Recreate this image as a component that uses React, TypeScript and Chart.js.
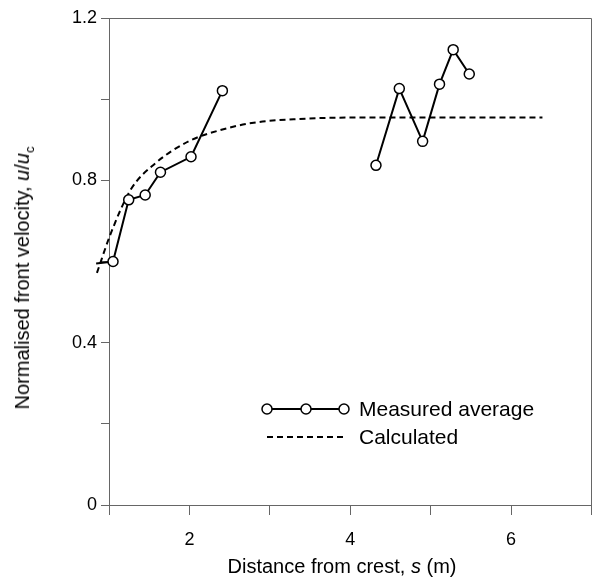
import React, { useEffect, useRef } from "react";
import { Chart, registerables } from "chart.js";
Chart.register(...registerables);

const measuredX = [0.84, 1.05, 1.245, 1.45, 1.64, 2.02, 2.41, 3.4, 4.32, 4.61, 4.9, 5.11, 5.28, 5.48];
const measuredY: (number | null)[] = [0.595, 0.6, 0.752, 0.764, 0.82, 0.858, 1.021, null, 0.837, 1.026, 0.896, 1.037, 1.122, 1.062];
const calcX = [0.85, 1.02, 1.27, 1.57, 1.99, 2.37, 2.8, 3.34, 4.19, 6.39];
const calcY = [0.572, 0.668, 0.777, 0.841, 0.896, 0.923, 0.942, 0.951, 0.955, 0.955];
const yLabels = ["0", "0.4", "0.8", "1.2"];
const xLabels = ["2", "4", "6"];

const FONT = "'Liberation Sans', Arial, sans-serif";

export default function App() {
  const ref = useRef<HTMLCanvasElement>(null);
  useEffect(() => {
    const frame = {
      id: "frame",
      afterDraw(c: any) {
        const { ctx, chartArea: a } = c;
        ctx.save();
        ctx.strokeStyle = "#666";
        ctx.lineWidth = 1;
        ctx.beginPath();
        ctx.moveTo(a.left, a.top + 0.5);
        ctx.lineTo(a.right, a.top + 0.5);
        ctx.lineTo(a.right, a.bottom);
        ctx.stroke();
        ctx.restore();
      },
    };
    const chart = new Chart(ref.current!, {
      type: "line",
      data: {
        datasets: [
          {
            data: measuredX.map((x, i) => ({ x, y: measuredY[i] as any })),
            borderColor: "#000",
            borderWidth: 2,
            pointStyle: "circle",
            pointRadius: 5,
            pointBorderWidth: 1.5,
            pointBackgroundColor: "#fff",
            pointBorderColor: "#000",
            spanGaps: false,
            clip: false as any,
          },
          {
            data: calcX.map((x, i) => ({ x, y: calcY[i] })),
            borderColor: "#000",
            borderWidth: 2,
            borderDash: [6, 4],
            pointRadius: 0,
            cubicInterpolationMode: "monotone",
            clip: false as any,
          },
        ],
      },
      options: {
        animation: false,
        responsive: false,
        layout: { padding: { top: 18, right: 0, left: 0, bottom: 0 } },
        plugins: { legend: { display: false }, tooltip: { enabled: false } },
        scales: {
          x: {
            type: "linear",
            min: 1,
            max: 7,
            border: { color: "#666" },
            grid: { drawOnChartArea: false, tickLength: 10, color: "#666" },
            ticks: {
              stepSize: 1,
              padding: 14,
              color: "#000",
              font: { family: FONT, size: 18 },
              callback: (v: any) => (xLabels.includes(String(v)) ? String(v) : ""),
            },
            afterFit: (s: any) => { s.height = 73; s.paddingRight = 6; },
          },
          y: {
            min: 0,
            max: 1.2,
            border: { color: "#666" },
            grid: { drawOnChartArea: false, tickLength: 8, color: "#666" },
            ticks: {
              stepSize: 0.2,
              padding: 4,
              color: "#000",
              font: { family: FONT, size: 18 },
              callback: (v: any) => {
                const s = String(Math.round(Number(v) * 10) / 10);
                return yLabels.includes(s) ? s : "";
              },
            },
            afterFit: (s: any) => { s.width = 109; },
          },
        },
      },
      plugins: [frame],
    } as any);
    return () => chart.destroy();
  }, []);

  return (
    <div style={{ position: "fixed", left: 0, top: 0, width: 598, height: 578, background: "#fff", fontFamily: FONT, color: "#000" }}>
      <canvas ref={ref} width={598} height={578} style={{ position: "absolute", left: 0, top: 0 }} />
      <div style={{ position: "absolute", left: 24, top: 278, transform: "translate(-50%,-50%) rotate(-90deg)", whiteSpace: "nowrap", fontSize: 20 }}>
        Normalised front velocity, <i>u</i>/<i>u</i><sub style={{ fontSize: 13 }}>c</sub>
      </div>
      <div style={{ position: "absolute", left: 342, top: 566, transform: "translate(-50%,-50%)", whiteSpace: "nowrap", fontSize: 20 }}>
        Distance from crest, <i>s</i> (m)
      </div>
      <div style={{ position: "absolute", left: 259, top: 395, fontSize: 21, lineHeight: "28px" }}>
        <div style={{ display: "flex", alignItems: "center" }}>
          <svg width={96} height={20}>
            <line x1={8} y1={10} x2={85} y2={10} stroke="#000" strokeWidth={2} />
            {[8, 47, 85].map((cx) => (
              <circle key={cx} cx={cx} cy={10} r={5} fill="#fff" stroke="#000" strokeWidth={1.5} />
            ))}
          </svg>
          <span style={{ marginLeft: 4 }}>Measured average</span>
        </div>
        <div style={{ display: "flex", alignItems: "center" }}>
          <svg width={96} height={20}>
            <line x1={8} y1={10} x2={85} y2={10} stroke="#000" strokeWidth={2} strokeDasharray="6 4" />
          </svg>
          <span style={{ marginLeft: 4 }}>Calculated</span>
        </div>
      </div>
    </div>
  );
}
